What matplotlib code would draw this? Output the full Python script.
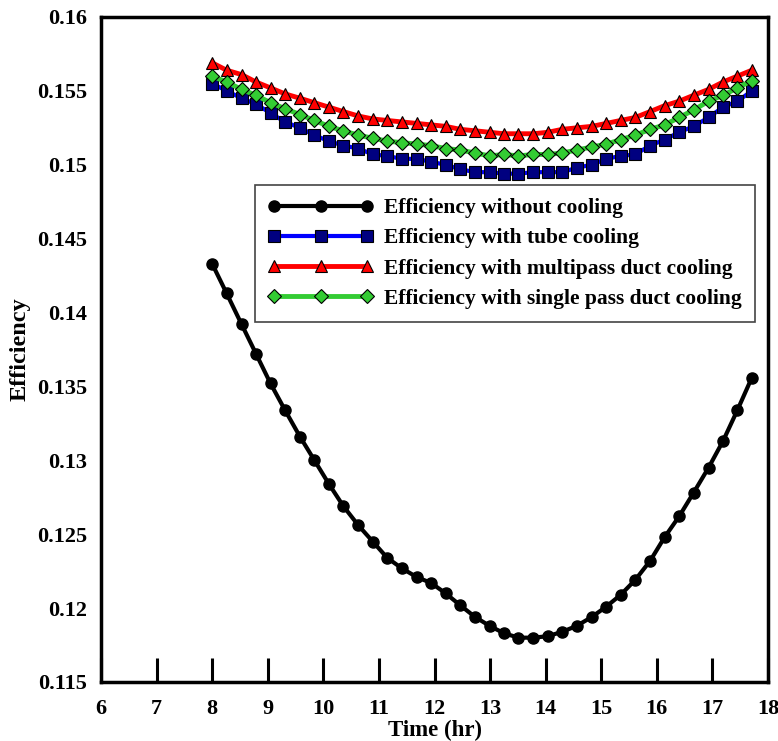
import matplotlib
matplotlib.use("Agg")
import matplotlib.pyplot as plt

time_hr = [8.00, 8.26, 8.53, 8.79, 9.05, 9.31, 9.58, 9.84, 10.10, 10.36,
           10.63, 10.89, 11.15, 11.41, 11.68, 11.94, 12.20, 12.46, 12.73, 12.99,
           13.25, 13.51, 13.78, 14.04, 14.30, 14.56, 14.83, 15.09, 15.35, 15.61,
           15.88, 16.14, 16.40, 16.66, 16.93, 17.19, 17.45, 17.71]

eff_no_cooling = [0.1433, 0.1413, 0.1392, 0.1372, 0.1352, 0.1334, 0.1316, 0.1300, 0.1284, 0.1269,
                  0.1256, 0.1245, 0.1234, 0.1227, 0.1221, 0.1217, 0.1210, 0.1202, 0.1194, 0.1188,
                  0.1183, 0.1180, 0.1180, 0.1181, 0.1184, 0.1188, 0.1194, 0.1201, 0.1209, 0.1219,
                  0.1232, 0.1248, 0.1262, 0.1278, 0.1295, 0.1313, 0.1334, 0.1356]

eff_tube = [0.1555, 0.1550, 0.1545, 0.1541, 0.1535, 0.1529, 0.1525, 0.1520, 0.1516, 0.1513,
            0.1511, 0.1507, 0.1506, 0.1504, 0.1504, 0.1502, 0.1500, 0.1497, 0.1495, 0.1495,
            0.1494, 0.1494, 0.1495, 0.1495, 0.1495, 0.1498, 0.1500, 0.1504, 0.1506, 0.1507,
            0.1513, 0.1517, 0.1522, 0.1526, 0.1532, 0.1539, 0.1543, 0.1550]

eff_multipass = [0.1569, 0.1564, 0.1561, 0.1556, 0.1552, 0.1548, 0.1545, 0.1542, 0.1539, 0.1536,
                 0.1533, 0.1531, 0.1530, 0.1529, 0.1528, 0.1527, 0.1526, 0.1524, 0.1523, 0.1522,
                 0.1521, 0.1521, 0.1521, 0.1522, 0.1524, 0.1525, 0.1526, 0.1528, 0.1530, 0.1532,
                 0.1536, 0.1540, 0.1543, 0.1547, 0.1551, 0.1556, 0.1560, 0.1564]

eff_single = [0.1560, 0.1556, 0.1551, 0.1547, 0.1542, 0.1538, 0.1534, 0.1530, 0.1526, 0.1523,
              0.1520, 0.1518, 0.1516, 0.1515, 0.1514, 0.1513, 0.1511, 0.1510, 0.1508, 0.1506,
              0.1507, 0.1506, 0.1507, 0.1507, 0.1508, 0.1510, 0.1512, 0.1514, 0.1517, 0.1520,
              0.1524, 0.1527, 0.1532, 0.1537, 0.1543, 0.1547, 0.1552, 0.1557]

labels = ["Efficiency without cooling",
          "Efficiency with tube cooling",
          "Efficiency with multipass duct cooling",
          "Efficiency with single pass duct cooling"]

x_ticks = [6, 7, 8, 9, 10, 11, 12, 13, 14, 15, 16, 17, 18]
y_ticks = [0.115, 0.12, 0.125, 0.13, 0.135, 0.14, 0.145, 0.15, 0.155, 0.16]
y_tick_labels = ["0.115", "0.12", "0.125", "0.13", "0.135", "0.14", "0.145", "0.15", "0.155", "0.16"]

plt.rcParams['font.family'] = ['Liberation Serif', 'DejaVu Serif']
plt.rcParams['font.weight'] = 'bold'

fig = plt.figure(figsize=(7.78, 7.41), dpi=100)
ax = fig.add_axes([101 / 778, 1 - 682 / 741, 667 / 778, 665 / 741])

ax.plot(time_hr, eff_no_cooling, color='black', lw=3, marker='o', ms=8,
        mfc='black', mec='black', label=labels[0], zorder=3)
ax.plot(time_hr, eff_tube, color='#0000FF', lw=3, marker='s', ms=8.5,
        mfc='#000080', mec='black', mew=0.8, label=labels[1], zorder=3)
ax.plot(time_hr, eff_multipass, color='#FF0000', lw=3.5, marker='^', ms=9,
        mfc='#FF0000', mec='black', mew=0.8, label=labels[2], zorder=3)
ax.plot(time_hr, eff_single, color='#33CC33', lw=3.5, marker='D', ms=7,
        mfc='#33CC33', mec='black', mew=0.8, label=labels[3], zorder=3)

ax.set_xlim(6, 18)
ax.set_ylim(0.115, 0.16)
ax.set_xticks(x_ticks)
ax.set_xticklabels([str(t) for t in x_ticks])
ax.set_yticks(y_ticks)
ax.set_yticklabels(y_tick_labels)

ax.tick_params(axis='x', direction='in', length=17, width=2.2, labelsize=16, pad=12)
ax.tick_params(axis='y', length=0, labelsize=16, pad=10)
for lbl in ax.get_xticklabels() + ax.get_yticklabels():
    lbl.set_fontweight('bold')

for side in ['left', 'bottom', 'right', 'top']:
    ax.spines[side].set_linewidth(2.5)

ax.set_xlabel("Time (hr)", fontsize=16.5, fontweight='bold', labelpad=1)
ax.set_ylabel("Efficiency", fontsize=17.5, fontweight='bold', labelpad=5)

leg = ax.legend(loc='upper left', bbox_to_anchor=(0.231, 0.747), numpoints=3,
                fancybox=False, shadow=False, framealpha=1, edgecolor='#444444',
                prop={'family': 'Liberation Serif', 'weight': 'bold', 'size': 15.5},
                handlelength=4.9, handletextpad=0.5, labelspacing=0.47,
                borderpad=0.6, borderaxespad=0)
leg.get_frame().set_linewidth(1.2)

fig.savefig("out.png", dpi=100)
